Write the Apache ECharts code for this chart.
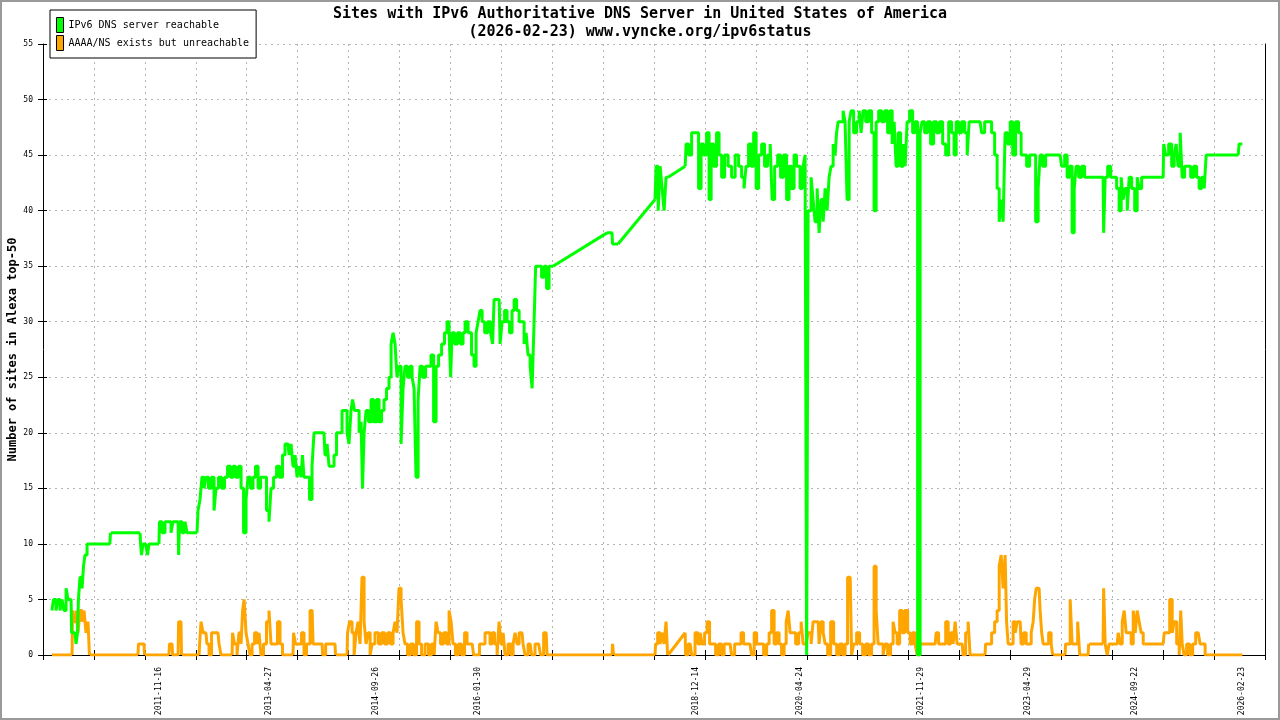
<!DOCTYPE html>
<html>
<head>
<meta charset="utf-8">
<script src="https://cdn.jsdelivr.net/npm/echarts@6/dist/echarts.min.js"></script>
<style>
html,body{margin:0;padding:0;background:#fff;}
#c{width:1280px;height:720px;}
</style>
</head>
<body>
<div id="c"></div>
<script>
// x values are days since START_DATE
const START_DATE = '2010-05-07';
const X_MAX_DAYS = 5880;
const X_TICK_DAYS = 245;
const Y_MAX = 55;
const Y_TICK = 5;
const MAX_GAP_DAYS = 40; // longer gaps between samples are drawn as straight links

const titleText = 'Sites with IPv6 Authoritative DNS Server in United States of America';
const subTitleText = '(2026-02-23) www.vyncke.org/ipv6status';
const yAxisName = 'Number of sites in Alexa top-50';
const seriesNames = ['IPv6 DNS server reachable', 'AAAA/NS exists but unreachable'];

const tickLabels = ['2011-11-16','2013-04-27','2014-09-26','2016-01-30','2018-12-14',
  '2020-04-24','2021-11-29','2023-04-29','2024-09-22','2026-02-23'];

const reachDays = [43,58,67,77,87,96,106,116,125,135,140,154,164,168,173,183,193,197,207,217,
  322,327,467,472,476,486,501,505,515,558,563,582,592,611,621,630,650,655,659,679,688,698,
  741,751,760,770,780,789,804,818,828,837,852,866,881,895,910,919,934,948,958,972,982,991,
  1006,1015,1030,1040,1054,1068,1083,1092,1102,1117,1131,1145,1160,1169,1179,1189,1198,1208,
  1218,1227,1237,1246,1251,1261,1275,1290,1299,1309,1333,1352,1362,1372,1381,1396,1405,1420,
  1434,1444,1458,1468,1477,1487,1492,1506,1516,1526,1535,1540,1550,1559,1574,1583,1598,1612,
  1622,1636,1646,1660,1670,1680,1689,1699,1708,1718,1728,1737,1747,1761,1771,1781,1790,1800,
  1810,1819,1834,1848,1862,1872,1887,1896,1911,1925,1939,1949,1959,1964,1973,1988,2002,2016,
  2026,2036,2055,2069,2079,2089,2098,2108,2118,2132,2146,2161,2166,2175,2195,2204,2214,2228,
  2238,2252,2262,2272,2286,2296,2310,2320,2329,2339,2349,2358,2368,2373,2392,2406,2416,2430,
  2440,2454,2714,2738,2743,2767,2945,2955,2965,2974,2984,2993,3003,3008,3090,3099,3114,3128,
  3147,3162,3171,3186,3200,3210,3220,3234,3248,3258,3273,3287,3306,3321,3340,3354,3369,3378,
  3388,3402,3412,3427,3436,3451,3465,3479,3494,3504,3513,3528,3542,3556,3571,3585,3595,3609,
  3619,3633,3653,3662,3672,3677,3686,3691,3701,3710,3720,3730,3739,3749,3759,3768,3778,3787,
  3797,3807,3816,3821,3831,3845,3855,3864,3874,3884,3893,3908,3922,3932,3941,3951,3966,3980,
  3994,4004,4014,4028,4043,4057,4071,4081,4091,4100,4110,4120,4134,4144,4153,4163,4177,4192,
  4201,4216,4225,4235,4249,4264,4278,4293,4307,4322,4336,4351,4365,4379,4389,4399,4413,4428,
  4442,4452,4461,4485,4509,4524,4538,4557,4572,4586,4596,4606,4615,4625,4634,4649,4659,4673,
  4687,4702,4711,4726,4740,4755,4769,4784,4793,4803,4817,4832,4846,4870,4894,4909,4923,4933,
  4947,4957,4967,4976,4991,5005,5019,5039,5063,5087,5101,5106,5116,5130,5145,5159,5173,5183,
  5193,5202,5212,5222,5231,5246,5260,5270,5279,5294,5327,5376,5390,5395,5409,5424,5438,5448,
  5457,5467,5477,5486,5501,5515,5530,5544,5558,5568,5583,5592,5602,5640,5688,5751,5760,5771];
const reachVals = [4,5,4,5,4,5,4,6,5,5,2,2,1,2,5,7,6,8,9,10,
  10,11,11,10,9,10,10,9,10,10,12,11,12,12,11,12,12,9,12,11,12,11,
  11,13,14,16,15,16,15,16,13,15,16,15,16,17,16,17,16,17,15,11,14,16,
  15,16,17,15,16,16,13,12,15,16,17,16,18,19,19,18,19,17,
  18,16,17,16,18,16,16,14,17,20,20,20,18,19,17,17,18,20,
  20,22,22,20,19,22,23,22,22,20,21,15,20,22,21,23,21,23,
  21,22,23,24,25,28,29,28,25,26,19,24,26,25,26,25,24,16,
  23,26,25,26,26,27,21,26,27,28,29,30,29,25,29,28,29,28,
  29,30,29,27,26,29,30,31,30,29,30,29,28,32,32,28,30,31,
  30,29,31,32,31,30,30,28,29,27,26,24,30,35,35,34,35,33,
  35,35,38,38,37,37,41,44,40,44,42,40,43,43,44,46,45,47,
  47,42,46,45,47,41,46,44,47,45,43,45,44,43,45,44,43,42,
  44,46,44,47,42,45,46,44,45,46,41,44,45,43,45,41,44,42,
  45,44,42,44,45,0,40,40,43,41,39,42,38,41,39,42,40,43,
  44,46,45,47,48,48,49,48,41,48,49,47,48,49,47,49,48,49,
  47,40,48,49,48,49,47,49,46,48,44,47,44,46,44,48,49,47,
  48,0,47,48,47,48,46,48,47,48,46,45,48,47,45,48,47,48,
  47,45,48,48,48,47,48,48,47,45,42,39,41,39,47,46,48,45,
  48,47,45,45,44,45,45,39,42,45,44,45,45,45,45,44,45,43,
  44,38,42,44,43,44,43,43,43,43,43,38,43,44,43,43,42,40,
  43,41,42,40,43,42,40,43,42,43,43,43,43,46,45,46,44,45,
  46,44,47,43,44,44,43,44,43,42,43,42,45,45,45,45,46,46];

const unreachDays = [43,140,144,154,164,173,183,193,202,212,221,226,457,462,486,491,606,611,621,626,
  650,655,664,669,751,756,765,775,784,794,804,818,842,852,861,910,914,929,938,948,958,963,972,
  982,991,1001,1011,1025,1035,1044,1054,1068,1083,1092,1102,1121,1136,1145,1160,1203,1208,1222,
  1237,1251,1261,1275,1295,1304,1323,1343,1348,1372,1405,1410,1463,1468,1482,1492,1502,1511,
  1521,1530,1540,1550,1559,1569,1579,1588,1607,1622,1636,1651,1665,1680,1689,1699,1708,1718,
  1728,1737,1747,1761,1776,1790,1805,1814,1829,1848,1862,1877,1887,1896,1906,1920,1935,1949,
  1959,1968,1978,1992,2007,2021,2036,2045,2065,2079,2093,2108,2122,2132,2146,2156,2166,2180,
  2190,2199,2209,2219,2228,2247,2257,2267,2276,2286,2296,2305,2315,2324,2344,2358,2377,2392,
  2397,2421,2430,2738,2743,2748,2945,2950,2965,2974,2984,2993,3003,3008,3090,3094,3114,3128,
  3147,3157,3167,3176,3191,3200,3215,3229,3244,3258,3273,3282,3306,3321,3335,3354,3364,3378,
  3402,3417,3427,3441,3460,3475,3489,3499,3513,3523,3537,3547,3561,3571,3581,3590,3600,3614,
  3629,3643,3653,3662,3672,3691,3701,3710,3730,3739,3749,3759,3768,3783,3797,3812,3826,3840,
  3855,3864,3879,3889,3893,3908,3922,3937,3951,3966,3980,3994,4004,4014,4023,4038,4047,4057,
  4071,4086,4095,4105,4115,4129,4139,4153,4168,4177,4192,4201,4211,4225,4245,4259,4278,4293,
  4302,4317,4336,4351,4360,4375,4384,4394,4403,4423,4432,4447,4456,4466,4533,4538,4557,4572,
  4586,4596,4606,4615,4625,4634,4639,4649,4663,4673,4683,4692,4702,4711,4726,4736,4750,4760,
  4769,4774,4784,4793,4803,4808,4817,4832,4846,4856,4861,4918,4923,4938,4947,4957,4971,4986,
  4991,5029,5034,5101,5106,5116,5125,5135,5169,5178,5188,5198,5207,5217,5231,5241,5251,5260,
  5270,5279,5289,5299,5390,5400,5414,5429,5438,5448,5462,5472,5477,5486,5496,5510,5525,5539,
  5554,5563,5573,5587,5597,5771];
const unreachVals = [0,0,4,3,4,2,4,3,4,2,3,0,0,1,1,0,0,1,1,0,
  0,3,3,0,0,1,3,2,2,1,0,2,2,1,0,0,2,1,0,2,1,4,5,
  2,1,0,1,2,1,2,0,1,3,4,1,1,3,1,0,0,2,1,
  1,2,0,1,4,1,1,1,0,1,1,0,0,2,3,2,0,2,
  3,1,7,3,1,2,0,1,2,1,2,1,2,1,2,3,2,6,
  5,2,1,0,1,0,3,1,0,1,0,1,0,3,2,1,2,1,
  4,3,1,0,1,0,2,1,1,0,0,1,1,2,2,1,2,1,
  0,3,1,2,0,1,0,1,2,1,2,2,1,0,1,0,1,1,
  0,2,0,0,1,0,0,1,2,1,2,1,3,0,2,0,1,0,
  2,1,2,1,2,3,1,1,0,1,0,1,1,0,1,1,2,1,
  1,0,2,1,1,0,1,2,4,1,2,1,0,1,3,4,2,2,
  1,2,3,1,1,2,1,3,3,1,3,2,1,0,3,1,0,1,
  0,1,7,7,0,1,2,1,0,1,0,1,8,4,1,1,0,1,
  0,1,3,2,1,4,2,4,2,1,2,1,0,1,1,1,1,1,
  2,1,1,3,1,2,1,3,1,1,0,2,3,0,0,1,1,2,
  3,4,8,9,6,9,3,1,1,3,2,3,3,1,2,1,1,2,
  3,5,6,6,4,2,1,1,2,1,0,0,1,1,5,1,1,3,
  0,0,1,1,6,1,0,1,1,2,1,3,4,2,2,1,4,2,
  4,3,2,1,1,2,2,5,2,3,1,0,4,1,0,1,0,1,
  2,2,1,1,0,0];

const FONT = 'DejaVu Sans Mono';
const DAY_MS = 86400000;
const dayOf = s => Math.round((Date.parse(s) - Date.parse(START_DATE)) / DAY_MS);
const labelDays = tickLabels.map(dayOf);
const labelByDay = {};
labelDays.forEach((d, i) => { labelByDay[d] = tickLabels[i]; });

// Split a series into stepped runs (daily samples) and straight links across data gaps
function splitRuns(days, vals) {
  const runs = [], links = [];
  for (let i = 0; i < days.length; i++) {
    if (i > 0 && days[i] - days[i - 1] > MAX_GAP_DAYS) {
      runs.push([days[i - 1], '-'], [days[i], '-']);
      links.push([days[i - 1], vals[i - 1]], [days[i], vals[i]], [days[i], '-']);
    }
    runs.push([days[i], vals[i]]);
  }
  return { runs, links };
}
const reach = splitRuns(reachDays, reachVals);
const unreach = splitRuns(unreachDays, unreachVals);

const GREEN = '#00ff00';
const ORANGE = '#ffa500';
function lineSeries(name, data, color, step, z) {
  return {
    name, type: 'line', data, step,
    showSymbol: false, symbol: 'none', connectNulls: false,
    color, lineStyle: { color, width: 3, join: 'bevel', cap: 'butt' },
    itemStyle: { color }, z, silent: true
  };
}

const gridColor = '#b4b4b4';
const chart = echarts.init(document.getElementById('c'), null, { renderer: 'canvas' });
chart.setOption({
  animation: false,
  backgroundColor: '#fff',
  title: {
    text: titleText + '\n' + subTitleText,
    left: 'center',
    top: 5,
    padding: 0,
    textStyle: { fontFamily: FONT, fontSize: 15, fontWeight: 'bold', color: '#000', lineHeight: 18 }
  },
  legend: {
    data: seriesNames,
    orient: 'vertical',
    left: 50,
    top: 10,
    icon: 'rect',
    itemWidth: 7,
    itemHeight: 15,
    itemGap: 2,
    padding: [7, 7, 7, 6],
    borderColor: '#000',
    borderWidth: 1,
    borderRadius: 0,
    backgroundColor: '#fff',
    selectedMode: false,
    itemStyle: { borderColor: '#000', borderWidth: 1 },
    textStyle: { fontFamily: FONT, fontSize: 10, color: '#000' },
    z: 10
  },
  grid: { left: 43, right: 15, top: 44, bottom: 65, containLabel: false, outerBoundsMode: 'none' },
  xAxis: [{
    type: 'value', min: 0, max: X_MAX_DAYS, interval: X_TICK_DAYS,
    axisLine: { show: true, onZero: false, lineStyle: { color: '#000', width: 1 } },
    axisTick: { show: true, inside: false, length: 5, lineStyle: { color: '#000', width: 1 } },
    splitLine: { show: true, lineStyle: { color: gridColor, width: 1, type: [2, 4] } },
    axisLabel: {
      customValues: labelDays,
      formatter: v => labelByDay[Math.round(v)] || '',
      rotate: 90, margin: 12,
      fontFamily: FONT, fontSize: 8, color: '#000'
    }
  }, {
    type: 'value', min: 0, max: X_MAX_DAYS, interval: X_TICK_DAYS, position: 'bottom',
    axisLine: { show: false, onZero: false },
    axisTick: { show: true, inside: true, length: 5, lineStyle: { color: '#000', width: 1 } },
    splitLine: { show: false },
    axisLabel: { show: false }
  }],
  yAxis: [{
    type: 'value', min: 0, max: Y_MAX, interval: Y_TICK, position: 'left',
    axisLine: { show: true, onZero: false, lineStyle: { color: '#000', width: 1 } },
    axisTick: { show: true, inside: false, length: 5, lineStyle: { color: '#000', width: 1 } },
    splitLine: { show: true, lineStyle: { color: gridColor, width: 1, type: [2, 4] } },
    axisLabel: { margin: 10, fontFamily: FONT, fontSize: 8, color: '#000' },
    name: yAxisName,
    nameLocation: 'middle',
    nameGap: 24,
    nameMoveOverlap: false,
    nameTextStyle: { fontFamily: FONT, fontSize: 12, fontWeight: 'bold', color: '#000' }
  }, {
    type: 'value', min: 0, max: Y_MAX, interval: Y_TICK, position: 'left',
    axisLine: { show: false, onZero: false },
    axisTick: { show: true, inside: true, length: 4, lineStyle: { color: '#000', width: 1 } },
    splitLine: { show: false },
    axisLabel: { show: false }
  }, {
    type: 'value', min: 0, max: Y_MAX, interval: Y_TICK, position: 'right',
    axisLine: { show: true, onZero: false, lineStyle: { color: '#000', width: 1 } },
    axisTick: { show: false },
    splitLine: { show: false },
    axisLabel: { show: false }
  }],
  series: [
    lineSeries(seriesNames[1], unreach.runs, ORANGE, 'middle', 2),
    lineSeries(seriesNames[1], unreach.links, ORANGE, false, 2),
    lineSeries(seriesNames[0], reach.runs, GREEN, 'middle', 3),
    lineSeries(seriesNames[0], reach.links, GREEN, false, 3)
  ],
  graphic: [{
    type: 'rect',
    silent: true,
    z: 100,
    shape: { x: 1, y: 1, width: 1278, height: 718 },
    style: { fill: null, stroke: '#9a9a9a', lineWidth: 2 }
  }]
});
</script>
</body>
</html>
